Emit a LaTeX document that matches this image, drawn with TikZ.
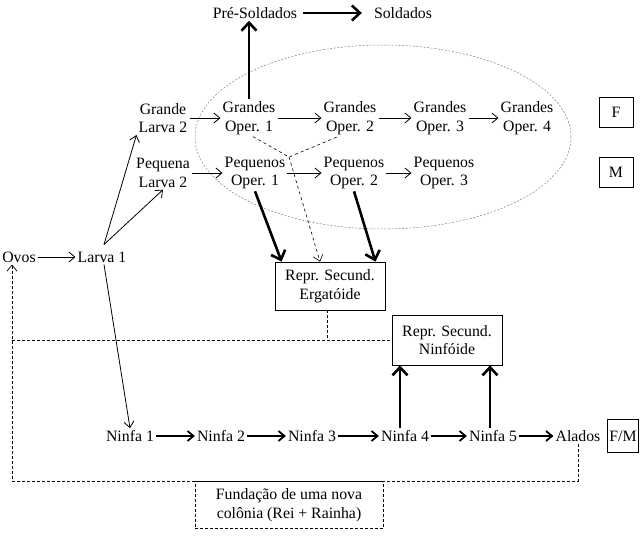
\documentclass[tikz,border=0pt]{standalone}
\usepackage{fontspec}
\setmainfont{Liberation Serif}
\usetikzlibrary{arrows.meta}

\begin{document}
\begin{tikzpicture}[x=1pt,y=-1pt,>={Straight Barb[length=6pt,width=10pt]},
		every node/.style={font=\fontsize{15.8}{18.5}\selectfont,align=center,inner sep=2pt},
		caixa/.style={draw,line width=0.8pt,inner sep=4pt},
		fino/.style={->,line width=0.8pt},
		grosso/.style={-{Straight Barb[length=8pt,width=15pt]},line width=2.6pt},
		medio/.style={-{Straight Barb[length=6pt,width=10pt]},line width=1.8pt},
		tracejado/.style={dashed,dash pattern=on 3pt off 2pt,line width=0.7pt}]
		\useasboundingbox (0,0) rectangle (642,537);
		\draw[gray,dash pattern=on 2pt off 1.6pt,line width=0.5pt] (383,137) ellipse [x radius=188,y radius=92];
		\node (pres) at (255,13) {Pré-Soldados};
		\node (sold) at (403,13) {Soldados};
		\node (gl2) at (163,118) {Grande\\Larva 2};
		\node (pl2) at (163,173) {Pequena\\Larva 2};
		\node (go1) at (249,118) {Grandes\\Oper. 1};
		\node (go2) at (350,118) {Grandes\\Oper. 2};
		\node (go3) at (440,118) {Grandes\\Oper. 3};
		\node (go4) at (527,118) {Grandes\\Oper. 4};
		\node (po1) at (255,173) {Pequenos\\Oper. 1};
		\node (po2) at (354,173) {Pequenos\\Oper. 2};
		\node (po3) at (444,173) {Pequenos\\Oper. 3};
		\node[caixa,minimum width=34pt,minimum height=30pt] (f) at (616,112) {F};
		\node[caixa,minimum width=34pt,minimum height=30pt] (m) at (616,172) {M};
		\node (ovos) at (19,257) {Ovos};
		\node (larva1) at (102,257) {Larva 1};
		\node[caixa,minimum width=110pt,minimum height=48pt] (erg) at (330,286) {Repr. Secund.\\Ergatóide};
		\node[caixa,minimum width=110pt,minimum height=50pt] (ninf) at (447,340) {Repr. Secund.\\Ninfóide};
		\node (n1) at (130,436) {Ninfa 1};
		\node (n2) at (221,436) {Ninfa 2};
		\node (n3) at (312,436) {Ninfa 3};
		\node (n4) at (405,436) {Ninfa 4};
		\node (n5) at (493,436) {Ninfa 5};
		\node (alados) at (578,436) {Alados};
		\node[caixa,minimum height=33pt,inner sep=2pt] (fm) at (623,436) {F/M};
		\node[caixa,tracejado,minimum width=188pt,minimum height=47pt] (fund) at (289,505) {Fundação de uma nova\\colônia (Rei + Rainha)};
		\coordinate (junta) at (289,157);
		\coordinate (meio) at (12,340);
		\coordinate (base) at (12,481);
		\draw[grosso] (go1.north) -- (go1.north |- pres.south);
		\draw[grosso,shorten <=4pt,shorten >=10pt] (pres.east) -- (sold.west);
		\draw[fino] (ovos.east) -- (larva1.west);
		\draw[fino] ([xshift=2pt,yshift=5pt]larva1.north) -- (gl2.south west);
		\draw[fino] ([xshift=2pt,yshift=5pt]larva1.north) -- (pl2.south);
		\draw[fino] (gl2.east) -- (go1.west);
		\draw[fino] (pl2.east) -- (po1.west);
		\draw[fino] (go1.east) -- (go2.west);
		\draw[fino] (go2.east) -- (go3.west);
		\draw[fino] (go3.east) -- (go4.west);
		\draw[fino] (po1.east) -- (po2.west);
		\draw[fino] (po2.east) -- (po3.west);
		\draw[grosso] (po1.south) -- ([xshift=7pt]erg.north west);
		\draw[grosso] (po2.south) -- ([xshift=-10pt]erg.north east);
		\draw[dashed,line width=0.6pt] ([xshift=4pt]go1.south) -- (junta) -- ([xshift=-12pt]go2.south);
		\draw[dashed,line width=0.6pt,->] (junta) -- ([xshift=-10pt]erg.north);
		\draw[fino] ([xshift=2pt]larva1.south) -- (n1.north);
		\draw[medio] (n1.east) -- (n2.west);
		\draw[medio] (n2.east) -- (n3.west);
		\draw[medio] (n3.east) -- (n4.west);
		\draw[medio] (n4.east) -- (n5.west);
		\draw[medio] (n5.east) -- (alados.west);
		\draw[grosso] ([xshift=-5pt]n4.north) -- ([xshift=-5pt]n4.north |- ninf.south);
		\draw[grosso] ([xshift=-3pt]n5.north) -- ([xshift=-3pt]n5.north |- ninf.south);
		\draw[tracejado] ([xshift=-3pt]erg.south) -- ([xshift=-3pt]erg.south |- meio);
		\draw[tracejado] (meio) -- (ninf.west);
		\draw[tracejado,->] (alados.south) |- (base) -- (base |- ovos.south);
	\end{tikzpicture}
\end{document}
